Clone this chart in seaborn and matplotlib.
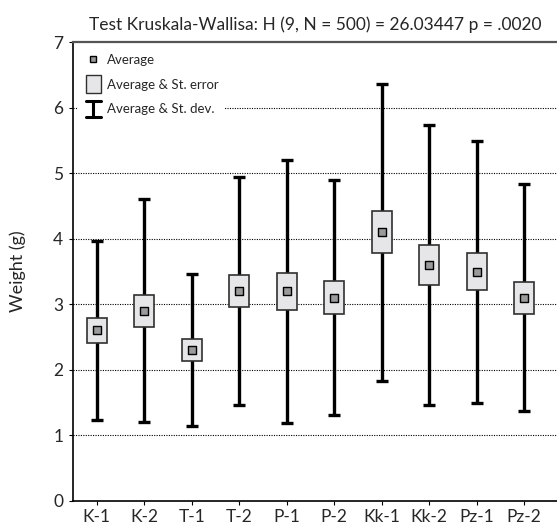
import matplotlib
matplotlib.use("Agg")
import matplotlib.pyplot as plt
import seaborn as sns
import numpy as np
import pandas as pd
from matplotlib.lines import Line2D
from matplotlib.patches import Rectangle
from matplotlib.legend_handler import HandlerBase

groups = ["K-1", "K-2", "T-1", "T-2", "P-1", "P-2", "Kk-1", "Kk-2", "Pz-1", "Pz-2"]
means = [2.6, 2.9, 2.3, 3.2, 3.2, 3.1, 4.1, 3.6, 3.5, 3.1]
std_err = [0.195, 0.245, 0.165, 0.245, 0.285, 0.255, 0.32, 0.305, 0.285, 0.245]
std_dev = [1.36, 1.70, 1.165, 1.745, 2.01, 1.79, 2.27, 2.14, 2.0, 1.73]
y_ticks = [0, 1, 2, 3, 4, 5, 6, 7]
title = "Test Kruskala-Wallisa: H (9, N = 500) = 26.03447 p = .0020"

df = pd.DataFrame({"group": groups, "mean": means, "se": std_err, "sd": std_dev})
df["x"] = np.arange(len(df))

sns.set_style("white")
plt.rcParams["font.family"] = ["Lato", "DejaVu Sans"]

fig = plt.figure(figsize=(5.57, 5.28), dpi=100)
ax = fig.add_axes([0.131, 0.0515, 0.869, 0.8685])

# gridlines
for yv in y_ticks[1:-1]:
    ax.axhline(yv, color="black", lw=0.8, ls=(0, (1, 1.2)), zorder=0)

# SD whiskers
ax.errorbar(df["x"], df["mean"], yerr=df["sd"], fmt="none", ecolor="black",
            elinewidth=2.4, capsize=4.5, capthick=2.4, zorder=2)
# SE boxes
ax.bar(df["x"], 2 * df["se"], bottom=df["mean"] - df["se"], width=0.42,
       color="#e6e6e8", edgecolor="#303030", linewidth=1.2, zorder=3)
# means
sns.scatterplot(data=df, x="x", y="mean", marker="s", s=30, color="#9a9a9a",
                edgecolor="black", linewidth=1.0, zorder=4, ax=ax, legend=False)

ax.set_xlim(-0.5, 9.69)
ax.set_ylim(0, 7)
ax.set_xticks(df["x"])
ax.set_xticklabels(groups, fontsize=12.5)
ax.set_yticks(y_ticks)
ax.set_yticklabels([str(t) for t in y_ticks], fontsize=12.5)
ax.tick_params(axis="both", which="both", length=3, width=0.8, color="black",
               direction="out", pad=3)
ax.tick_params(axis="x", bottom=True, pad=3)
ax.tick_params(axis="y", left=True, pad=4)
ax.set_xlabel("")
ax.set_ylabel("Weight (g)", fontsize=13)
ax.yaxis.set_label_coords(-0.098, 0.5)

for s in ["left", "bottom"]:
    ax.spines[s].set_color("black")
    ax.spines[s].set_linewidth(1.2)
ax.spines["right"].set_visible(False)
ax.spines["top"].set_color("#555555")
ax.spines["top"].set_linewidth(1.6)

ax.set_title(title, fontsize=12.5, pad=9)


class IBarHandler(HandlerBase):
    def create_artists(self, legend, orig_handle, xdescent, ydescent, width,
                       height, fontsize, trans):
        cx = width / 2 - xdescent
        lo, hi = -ydescent - 3, height - ydescent + 2
        v = Line2D([cx, cx], [lo, hi], color="black", lw=2.2, transform=trans)
        t = Line2D([cx - 5.5, cx + 5.5], [hi, hi], color="black", lw=2.2, transform=trans)
        b = Line2D([cx - 5.5, cx + 5.5], [lo, lo], color="black", lw=2.2, transform=trans)
        return [v, t, b]


class BoxHandler(HandlerBase):
    def create_artists(self, legend, orig_handle, xdescent, ydescent, width,
                       height, fontsize, trans):
        w, h = 10.5, height + 6
        r = Rectangle((width / 2 - xdescent - w / 2, -ydescent - 3), w, h,
                      facecolor="#e6e6e8", edgecolor="#303030", lw=1.0,
                      transform=trans)
        return [r]


class ISE:
    pass


class IBOX:
    pass


h_mean = Line2D([], [], marker="s", ls="none", markersize=4.5,
                markerfacecolor="#9a9a9a", markeredgecolor="black",
                markeredgewidth=1.0)
leg = ax.legend([h_mean, IBOX(), ISE()],
                ["Average", "Average & St. error", "Average & St. dev."],
                loc="upper left", bbox_to_anchor=(0.0, 1.0), frameon=True,
                fontsize=9.5, handlelength=1.3, handletextpad=0.4,
                labelspacing=0.95, borderpad=0.5, borderaxespad=0.4,
                handler_map={ISE: IBarHandler(), IBOX: BoxHandler()})
leg.get_frame().set_facecolor("white")
leg.get_frame().set_edgecolor("none")
leg.get_frame().set_alpha(1.0)
leg.set_zorder(5)

fig.savefig("out.png", dpi=100)
